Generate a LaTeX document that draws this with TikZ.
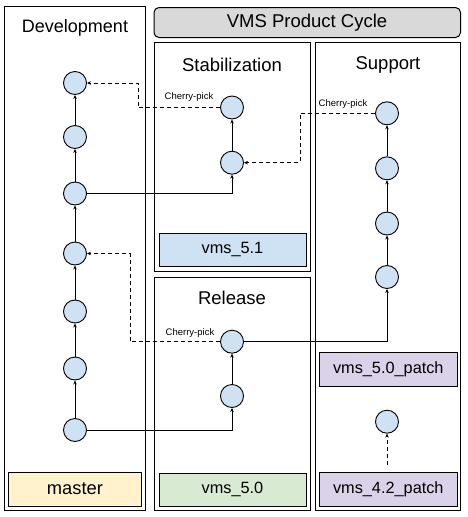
\documentclass[tikz,border=0pt]{standalone}
\usepackage{fontspec}
\setmainfont{Liberation Sans}
\usetikzlibrary{arrows.meta}
\definecolor{cblue}{HTML}{CFE2F3}
\definecolor{cyellow}{HTML}{FFF2CC}
\definecolor{cgreen}{HTML}{D9EAD3}
\definecolor{cpurple}{HTML}{D9D2E9}
\definecolor{cgray}{HTML}{D9D9D9}
\tikzset{
  container/.style={draw, line width=1pt, inner sep=0pt},
  title/.style={font=\fontsize{18.5}{21}\selectfont, inner sep=0pt},
  branch/.style={draw, line width=1pt, inner sep=0pt, font=\fontsize{16.3}{19}\selectfont},
  commit/.style={circle, draw, line width=0.9pt, fill=cblue, minimum size=23pt, inner sep=0pt},
  cp/.style={font=\fontsize{9.5}{11}\selectfont, inner sep=0pt},
  arr/.style={line width=0.9pt, -{Stealth[length=4pt,width=3.5pt]}},
  darr/.style={line width=0.9pt, dash pattern=on 4pt off 3pt, -{Stealth[length=4pt,width=3.5pt]}}
}
\begin{document}
\begin{tikzpicture}[x=1pt,y=-1pt]
\useasboundingbox[fill=white] (0,0) rectangle (468,517);
% containers
\node[container, minimum width=141pt, minimum height=503.5pt] (dev) at (75,258.25) {};
\node[container, rounded corners=5pt, fill=cgray, minimum width=306.5pt, minimum height=30pt] (hdr) at (307.25,22.5) {};
\node[container, minimum width=156pt, minimum height=228.5pt] (stab) at (232,156.75) {};
\node[container, minimum width=145pt, minimum height=468pt] (supp) at (388,276.5) {};
\node[container, minimum width=156pt, minimum height=233pt] (rel) at (232,394) {};
% titles
\node[title, font=\fontsize{18}{21}\selectfont] (tdev) at (75,28) {Development};
\node[title] (thdr) at (307,22.5) {VMS Product Cycle};
\node[title] (tstab) at (232,65) {Stabilization};
\node[title] (tsupp) at (388,65) {Support};
\node[title] (trel) at (232,297.5) {Release};
% branch boxes
\node[branch, fill=cyellow, minimum width=132.3pt, minimum height=34pt, font=\fontsize{18.3}{21}\selectfont] (master) at (74.9,489) {master};
\node[branch, fill=cblue, minimum width=147pt, minimum height=33.4pt] (b51) at (232.5,250) {vms\_5.1};
\node[branch, fill=cgreen, minimum width=147pt, minimum height=32.7pt] (b50) at (232.5,489.7) {vms\_5.0};
\node[branch, fill=cpurple, minimum width=138pt, minimum height=33.7pt] (b50p) at (388.3,369.2) {vms\_5.0\_patch};
\node[branch, fill=cpurple, minimum width=138pt, minimum height=33.7pt] (b42p) at (388.3,489.2) {vms\_4.2\_patch};
% commits
\node[commit] (d1) at (75,83) {};
\node[commit] (d2) at (75,137) {};
\node[commit] (d3) at (75,193.5) {};
\node[commit] (d4) at (75,253.5) {};
\node[commit] (d5) at (75,311.5) {};
\node[commit] (d6) at (75,368.5) {};
\node[commit] (d7) at (75,430) {};
\node[commit] (s1) at (232,107.5) {};
\node[commit] (s2) at (232,162.7) {};
\node[commit] (p1) at (387,113.3) {};
\node[commit] (p2) at (387,168.3) {};
\node[commit] (p3) at (387,223.5) {};
\node[commit] (p4) at (387,277) {};
\node[commit] (p5) at (387,421.7) {};
\node[commit] (r1) at (232,341.7) {};
\node[commit] (r2) at (232,396) {};
% waypoints
\coordinate (k1) at (138,83);
\coordinate (k2) at (300,162.7);
\coordinate (k3) at (130,253.5);
\coordinate (k4) at (387,465);
% cherry-pick labels
\node[cp] (cp1) at (189,97) {Cherry-pick};
\node[cp] (cp2) at (343,104.5) {Cherry-pick};
\node[cp] (cp3) at (190,333) {Cherry-pick};
% development chain
\draw[arr] (d7) -- (d6);
\draw[arr] (d6) -- (d5);
\draw[arr] (d5) -- (d4);
\draw[arr] (d4) -- (d3);
\draw[arr] (d3) -- (d2);
\draw[arr] (d2) -- (d1);
% stabilization
\draw[arr] (d3) -| (s2);
\draw[arr] (s2) -- (s1);
\draw[darr] (s1) -| (k1) -- (d1);
% support
\draw[arr] (p4) -- (p3);
\draw[arr] (p3) -- (p2);
\draw[arr] (p2) -- (p1);
\draw[darr] (p1) -| (k2) -- (s2);
% release
\draw[arr] (d7) -| (r2);
\draw[arr] (r2) -- (r1);
\draw[arr] (r1) -| (p4);
\draw[darr] (r1) -| (k3) -- (d4);
% 4.2 patch
\draw[darr] (k4) -- (p5);
\end{tikzpicture}
\end{document}
